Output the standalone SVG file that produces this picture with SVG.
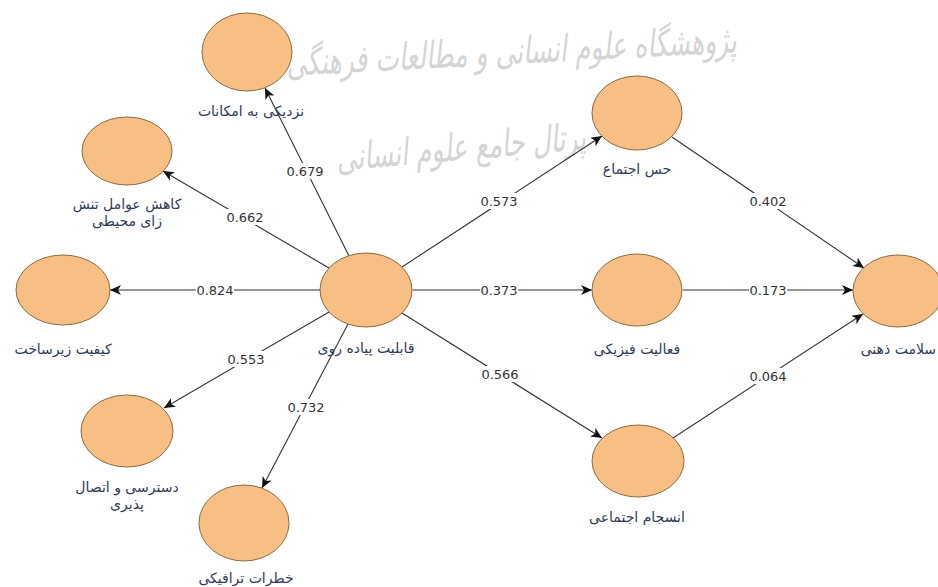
<svg xmlns="http://www.w3.org/2000/svg" width="938" height="587" viewBox="0 0 938 587">
<style>
.wm{font-family:"DejaVu Sans",sans-serif;fill:#d4d4d4;font-style:italic;text-anchor:middle;font-size:25px}
.nd{fill:#f7bf83;stroke:#8c6a40;stroke-width:1}
.lb{font-family:"DejaVu Sans",sans-serif;font-size:14px;fill:#2f3a58;text-anchor:middle}
.ed{stroke:#333;stroke-width:1.1;fill:none;marker-end:url(#ah)}
.wt{font-family:"DejaVu Sans",sans-serif;font-size:13px;fill:#333;text-anchor:middle}
.bg{fill:#fff}
</style>
<defs>
<marker id="ah" markerWidth="12" markerHeight="10" refX="11" refY="5" orient="auto" markerUnits="userSpaceOnUse">
<path d="M0,0 L11,5 L0,10 L3,5 Z" fill="#111"/>
</marker>
</defs>
<rect width="938" height="587" fill="#fff"/>
<g id="watermark">
<text class="wm" transform="translate(512,64) rotate(-3) scale(1,1.5)">پژوهشگاه علوم انسانی و مطالعات فرهنگی</text>
<text class="wm" transform="translate(462,160) rotate(-5) scale(1,1.5)">پرتال جامع علوم انسانی</text>
</g>
<g id="connectors">
<line class="ed" x1="349" y1="256" x2="265" y2="88"/>
<line class="ed" x1="329" y1="268" x2="163" y2="171"/>
<line class="ed" x1="320" y1="290" x2="110" y2="290"/>
<line class="ed" x1="329" y1="312" x2="164" y2="408"/>
<line class="ed" x1="348" y1="324" x2="262" y2="488"/>
<line class="ed" x1="402" y1="267" x2="602" y2="136"/>
<line class="ed" x1="413" y1="290" x2="592" y2="290"/>
<line class="ed" x1="402" y1="313" x2="602" y2="438"/>
<line class="ed" x1="672" y1="137" x2="864" y2="268"/>
<line class="ed" x1="683" y1="290" x2="853" y2="290"/>
<line class="ed" x1="673" y1="438" x2="863" y2="314"/>
<g id="weights">
<rect class="bg" x="286" y="163" width="38" height="16"/><text class="wt" x="305" y="176">0.679</text>
<rect class="bg" x="226" y="209" width="38" height="16"/><text class="wt" x="245" y="222">0.662</text>
<rect class="bg" x="196" y="282" width="38" height="16"/><text class="wt" x="215" y="295">0.824</text>
<rect class="bg" x="227" y="351" width="38" height="16"/><text class="wt" x="246" y="364">0.553</text>
<rect class="bg" x="287" y="399" width="38" height="16"/><text class="wt" x="306" y="412">0.732</text>
<rect class="bg" x="480" y="193" width="38" height="16"/><text class="wt" x="499" y="206">0.573</text>
<rect class="bg" x="480" y="282" width="38" height="16"/><text class="wt" x="499" y="295">0.373</text>
<rect class="bg" x="481" y="366" width="38" height="16"/><text class="wt" x="500" y="379">0.566</text>
<rect class="bg" x="749" y="193" width="38" height="16"/><text class="wt" x="768" y="206">0.402</text>
<rect class="bg" x="749" y="282" width="38" height="16"/><text class="wt" x="768" y="295">0.173</text>
<rect class="bg" x="749" y="368" width="38" height="16"/><text class="wt" x="768" y="381">0.064</text>
</g>
</g>
<g id="n-walk"><ellipse class="nd" cx="366" cy="290" rx="46" ry="37"/><text class="lb" x="366" y="353">قابلیت پیاده روی</text></g>
<g id="n-access-facilities"><ellipse class="nd" cx="247" cy="52" rx="45" ry="39"/><text class="lb" x="251" y="116">نزدیکی به امکانات</text></g>
<g id="n-stress"><ellipse class="nd" cx="127" cy="151" rx="45" ry="34"/><text class="lb" x="127" y="209">کاهش عوامل تنش</text><text class="lb" x="127" y="226">زای محیطی</text></g>
<g id="n-infra"><ellipse class="nd" cx="63" cy="290" rx="47" ry="35"/><text class="lb" x="63" y="354">کیفیت زیرساخت</text></g>
<g id="n-connect"><ellipse class="nd" cx="127" cy="431" rx="46" ry="36"/><text class="lb" x="127" y="492">دسترسی و اتصال</text><text class="lb" x="127" y="509">پذیری</text></g>
<g id="n-traffic"><ellipse class="nd" cx="244" cy="523" rx="45" ry="38"/><text class="lb" x="246" y="583">خطرات ترافیکی</text></g>
<g id="n-sense"><ellipse class="nd" cx="637" cy="113" rx="45" ry="37"/><text class="lb" x="637" y="174">حس اجتماع</text></g>
<g id="n-physical"><ellipse class="nd" cx="637" cy="290" rx="45" ry="36"/><text class="lb" x="637" y="354">فعالیت فیزیکی</text></g>
<g id="n-cohesion"><ellipse class="nd" cx="638" cy="461" rx="46" ry="36"/><text class="lb" x="637" y="522">انسجام اجتماعی</text></g>
<g id="n-mental"><ellipse class="nd" cx="898" cy="291" rx="45" ry="36"/><text class="lb" x="936" y="354" style="text-anchor:end">سلامت ذهنی</text></g>
</svg>
